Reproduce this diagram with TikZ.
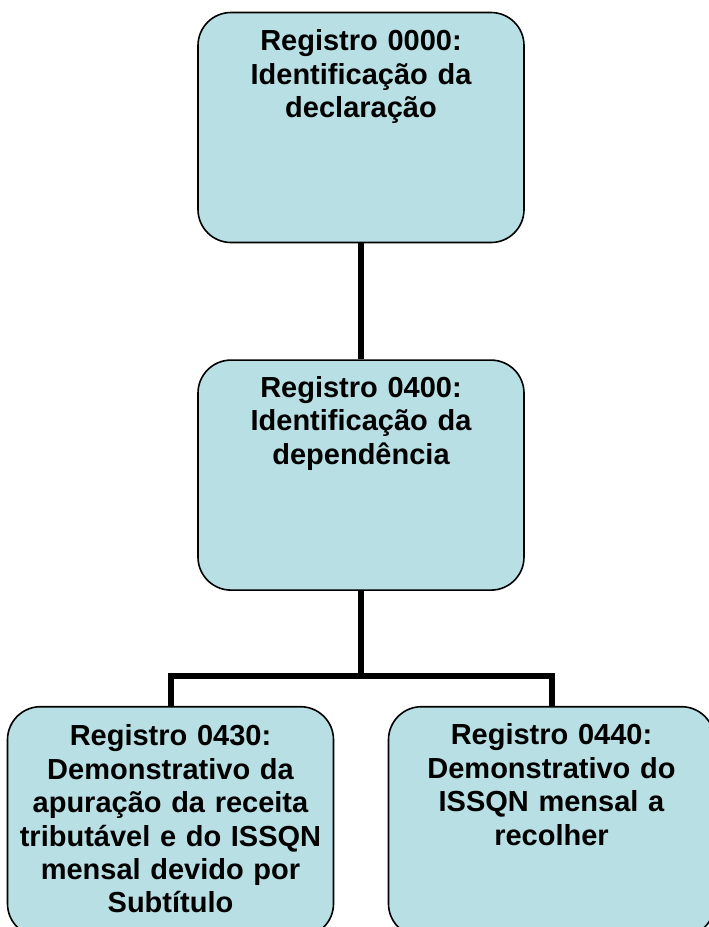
\documentclass[tikz,border=0pt]{standalone}
\usepackage{fontspec}
\setmainfont{Liberation Sans}
\usepackage{tikz}
\usetikzlibrary{positioning}
\definecolor{regfill}{RGB}{184,223,227}

\begin{document}
\begin{tikzpicture}[x=1pt, y=-1pt,
  regbox/.style={draw=black, line width=1.6pt, fill=regfill, rounded corners=33pt,
    minimum width=326pt, minimum height=230pt, inner sep=0pt},
  regtext/.style={anchor=base, align=center, text width=324pt, inner sep=0pt,
    font=\bfseries\fontsize{29}{33.4}\selectfont},
  conn/.style={line width=6pt}]

\useasboundingbox (0,0) rectangle (709,927);
\clip (0,0) rectangle (709,927);


% boxes
\node[regbox] (r0000) at (361,127.5) {};
\node[regbox, below=116pt of r0000] (r0400) {};
\node[regbox, below=115pt of r0400, xshift=-190.5pt] (r0430) {};
\node[regbox, below=115pt of r0400, xshift=190.5pt] (r0440) {};


% texts
\node[regtext] (t0000) at ([yshift=-39pt]r0000.north)
{Registro 0000:\\ Identificação da\\ declaração};

\node[regtext] (t0400) at ([yshift=-38pt]r0400.north)
{Registro 0400:\\ Identificação da\\ dependência};

\node[regtext] (t0430) at ([yshift=-40pt]r0430.north)
{Registro 0430:\\ Demonstrativo da\\ apuração da receita\\ tributável e do ISSQN\\ mensal devido por\\ Subtítulo};

\node[regtext] (t0440) at ([yshift=-39pt]r0440.north)
{Registro 0440:\\ Demonstrativo do\\ ISSQN mensal a\\ recolher};


% connectors
\coordinate (bus) at ([yshift=-85pt]r0400.south);

\draw[conn] (r0000) -- (r0400);
\draw[conn] (r0400) -- (bus);
\draw[conn] (r0430) |- (bus) -| (r0440);

\end{tikzpicture}
\end{document}
